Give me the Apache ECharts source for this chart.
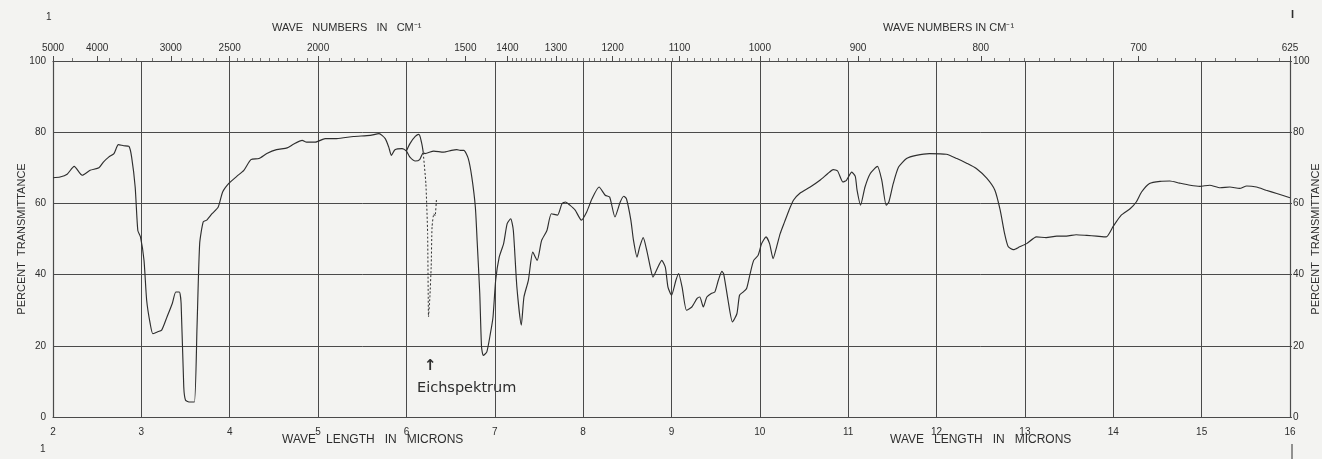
<!DOCTYPE html>
<html>
<head>
<meta charset="utf-8">
<script src="https://cdn.jsdelivr.net/npm/echarts@6/dist/echarts.min.js"></script>
<style>
html,body{margin:0;padding:0;background:#f3f3f1;}
#chart{width:1322px;height:459px;}
</style>
</head>
<body>
<div id="chart"></div>
<script>
// ---- data ----
// wavelength (microns), percent transmittance
const mainTrace = [
 [2.00,67.2],[2.08,67.4],[2.16,68.2],[2.24,70.4],[2.33,67.9],[2.42,69.3],[2.52,70.0],[2.57,71.6],[2.63,73.0],[2.69,74.0],
 [2.74,76.5],[2.80,76.2],[2.86,76.0],[2.89,73.0],[2.93,64.6],[2.96,52.4],[2.99,50.6],[3.03,44.0],[3.06,32.8],[3.10,26.2],
 [3.13,23.4],[3.18,23.9],[3.23,24.4],[3.29,28.1],[3.35,31.9],[3.39,35.1],[3.43,35.1],[3.45,31.9],[3.48,8.4],[3.50,4.7],
 [3.55,4.2],[3.60,4.2],[3.63,25.3],[3.66,48.7],[3.70,54.8],[3.74,55.3],[3.80,57.1],[3.87,59.0],[3.92,63.2],[3.99,65.6],
 [4.08,67.6],[4.16,69.3],[4.24,72.3],[4.33,72.6],[4.42,74.0],[4.53,75.1],[4.65,75.6],[4.72,76.6],[4.82,77.7],[4.87,77.2],
 [4.97,77.2],[5.08,78.2],[5.21,78.2],[5.40,78.8],[5.59,79.1],[5.69,79.6],[5.76,78.2],[5.80,75.8],[5.83,73.5],[5.87,75.1],
 [5.95,75.4],[6.00,74.7],[6.04,73.0],[6.10,71.9],[6.15,72.3],[6.19,74.2],[6.21,74.0],[6.31,74.7],[6.42,74.4],[6.51,74.9],
 [6.57,75.1],[6.61,74.9],[6.65,74.9],[6.70,72.6],[6.74,67.4],[6.78,59.0],[6.80,49.6],[6.83,34.7],[6.85,19.7],[6.87,17.3],
 [6.91,18.3],[6.95,23.4],[6.98,28.1],[7.01,38.4],[7.05,44.9],[7.10,48.7],[7.14,54.3],[7.18,55.7],[7.21,52.4],[7.25,36.5],
 [7.30,25.8],[7.33,33.7],[7.38,38.4],[7.43,46.3],[7.48,44.0],[7.53,49.6],[7.59,52.4],[7.64,57.1],[7.71,56.7],[7.76,59.9],
 [7.80,60.4],[7.85,59.5],[7.91,58.1],[7.98,55.3],[8.04,57.6],[8.10,61.3],[8.18,64.6],[8.25,62.3],[8.30,61.8],[8.36,56.2],
 [8.42,60.4],[8.46,62.0],[8.49,61.3],[8.54,55.3],[8.57,49.6],[8.61,44.9],[8.64,47.8],[8.68,50.4],[8.72,46.8],[8.76,42.1],
 [8.79,39.3],[8.83,41.2],[8.89,44.0],[8.93,42.1],[8.96,36.5],[9.00,34.2],[9.05,38.4],[9.08,40.3],[9.12,36.5],[9.17,30.0],
 [9.23,30.9],[9.29,33.3],[9.32,33.7],[9.36,30.9],[9.40,33.7],[9.45,34.7],[9.49,35.1],[9.53,38.4],[9.57,40.9],[9.59,40.3],
 [9.64,32.8],[9.69,26.7],[9.74,29.0],[9.77,34.2],[9.81,35.1],[9.85,36.1],[9.89,40.3],[9.93,44.0],[9.98,45.4],[10.02,48.7],
 [10.07,50.6],[10.11,48.7],[10.15,44.5],[10.19,47.8],[10.23,51.5],[10.28,54.8],[10.33,58.1],[10.38,60.9],[10.45,62.8],[10.57,64.6],
 [10.68,66.5],[10.77,68.4],[10.83,69.5],[10.88,69.1],[10.94,66.0],[10.98,66.5],[11.04,68.8],[11.08,67.6],[11.10,63.7],[11.14,59.5],
 [11.19,64.6],[11.25,68.4],[11.33,70.4],[11.38,66.5],[11.43,59.5],[11.46,60.4],[11.51,65.6],[11.57,70.2],[11.66,72.6],[11.77,73.5],
 [11.92,74.0],[12.11,73.8],[12.23,72.6],[12.34,71.3],[12.45,69.8],[12.57,67.0],[12.66,63.7],[12.72,58.1],[12.77,51.5],[12.81,47.9],
 [12.87,47.0],[12.94,47.8],[13.02,48.7],[13.13,50.6],[13.24,50.4],[13.36,50.8],[13.47,50.8],[13.58,51.2],[13.70,51.0],[13.81,50.8],
 [13.92,50.6],[14.00,53.6],[14.09,56.7],[14.19,58.5],[14.26,60.4],[14.32,63.2],[14.41,65.6],[14.53,66.2],[14.64,66.3],[14.75,65.7],
 [14.87,65.1],[14.98,64.8],[15.09,65.1],[15.21,64.4],[15.32,64.6],[15.43,64.2],[15.51,64.9],[15.62,64.6],[15.73,63.7],[15.85,62.8],
 [16.00,61.6]
];
// second (upper) trace of the overlap loop near 6 microns
const overlapBranch = [[6.00,74.7],[6.04,76.8],[6.10,78.8],[6.14,79.4],[6.17,77.2],[6.19,74.4]];
// calibration spectrum (dashed), polystyrene band
const calibrationTrace = [[6.19,74.2],[6.22,65.6],[6.24,51.5],[6.25,28.1],[6.265,33.5],[6.28,42.1],[6.29,53.4],[6.31,57.1],[6.325,56.5],[6.34,61.3]];

// axis labels
const wavenumberLabels = [5000,4000,3000,2500,2000,1500,1400,1300,1200,1100,1000,900,800,700,625];
// minor wavenumber tick ranges: [from, to, step]
const wavenumberMinorRanges = [[4500,4500,500],[3800,3200,200],[2900,2600,100],[2450,2050,50],[1950,1550,50],[1450,1450,50],[1390,630,10]];
const micronMin = 2, micronMax = 16, micronStep = 1;
const transMin = 0, transMax = 100, transStep = 20;

// ---- build ----
const toMicron = w => 10000 / w;
const majorMicrons = wavenumberLabels.map(toMicron);
const minorMicrons = [];
wavenumberMinorRanges.forEach(([a, b, s]) => {
  for (let w = a; w >= b; w -= s) {
    if (wavenumberLabels.indexOf(w) < 0) minorMicrons.push(toMicron(w));
  }
});

const ink = '#2e2e2e';
const gridInk = '#4a4a4a';
const font = 'Liberation Sans';

const chart = echarts.init(document.getElementById('chart'), null, {renderer: 'canvas'});
chart.setOption({
  backgroundColor: '#f3f3f1',
  animation: false,
  grid: {left: 53, right: 32, top: 61, bottom: 42, containLabel: false, outerBoundsMode: 'none'},
  xAxis: [
    {
      type: 'value', min: micronMin, max: micronMax, interval: micronStep, position: 'bottom',
      axisLine: {show: true, onZero: false, lineStyle: {color: gridInk, width: 1.2}},
      axisTick: {show: false},
      splitLine: {show: true, lineStyle: {color: gridInk, width: 1}},
      axisLabel: {color: ink, fontSize: 10, fontFamily: font, margin: 10}
    },
    {
      type: 'value', min: micronMin, max: micronMax, position: 'top',
      axisLine: {show: true, onZero: false, lineStyle: {color: gridInk, width: 1.2}},
      axisTick: {show: true, customValues: majorMicrons, length: 5, lineStyle: {color: gridInk}},
      axisLabel: {show: true, customValues: majorMicrons, color: ink, fontSize: 10, fontFamily: font, margin: 8,
        hideOverlap: false, formatter: v => String(Math.round(10000 / v))},
      splitLine: {show: false}
    },
    {
      type: 'value', min: micronMin, max: micronMax, position: 'top',
      axisLine: {show: false, onZero: false},
      axisTick: {show: true, customValues: minorMicrons, length: 3, lineStyle: {color: '#777'}},
      axisLabel: {show: false},
      splitLine: {show: false}
    }
  ],
  yAxis: [
    {
      type: 'value', min: transMin, max: transMax, interval: transStep, position: 'left',
      name: 'PERCENT  TRANSMITTANCE', nameLocation: 'middle', nameGap: 26, nameRotate: 90, nameMoveOverlap: false,
      nameTextStyle: {color: ink, fontSize: 11, fontFamily: font},
      axisLine: {show: true, onZero: false, lineStyle: {color: gridInk, width: 1.2}},
      axisTick: {show: false},
      splitLine: {show: true, lineStyle: {color: gridInk, width: 1}},
      axisLabel: {color: ink, fontSize: 10, fontFamily: font, margin: 7}
    },
    {
      type: 'value', min: transMin, max: transMax, interval: transStep, position: 'right',
      name: 'PERCENT  TRANSMITTANCE', nameLocation: 'middle', nameGap: 20, nameRotate: 90, nameMoveOverlap: false,
      nameTextStyle: {color: ink, fontSize: 11, fontFamily: font},
      axisLine: {show: true, onZero: false, lineStyle: {color: gridInk, width: 1.2}},
      axisTick: {show: true, length: 2, lineStyle: {color: gridInk}},
      splitLine: {show: false},
      axisLabel: {color: ink, fontSize: 10, fontFamily: font, margin: 3}
    }
  ],
  series: [
    {
      name: 'Spektrum', type: 'line', data: mainTrace, xAxisIndex: 0, yAxisIndex: 0,
      showSymbol: false, symbol: 'none', smooth: 0.2, z: 5,
      lineStyle: {color: ink, width: 1.15}
    },
    {
      name: 'Spektrum (Schleife)', type: 'line', data: overlapBranch, xAxisIndex: 0, yAxisIndex: 0,
      showSymbol: false, symbol: 'none', smooth: 0.3, z: 5,
      lineStyle: {color: ink, width: 1.15}
    },
    {
      name: 'Eichspektrum', type: 'line', data: calibrationTrace, xAxisIndex: 0, yAxisIndex: 0,
      showSymbol: false, symbol: 'none', smooth: 0.15, z: 5,
      lineStyle: {color: ink, width: 1, type: [2, 2]}
    }
  ],
  graphic: [
    {type: 'text', left: 272, top: 22, style: {text: 'WAVE   NUMBERS   IN   CM\u207B\u00B9', fill: ink, font: '11px "Liberation Sans"'}},
    {type: 'text', left: 883, top: 22, style: {text: 'WAVE NUMBERS IN CM\u207B\u00B9', fill: ink, font: '11px "Liberation Sans"'}},
    {type: 'text', left: 282, top: 434, style: {text: 'WAVE   LENGTH   IN   MICRONS', fill: ink, font: '12px "Liberation Sans"'}},
    {type: 'text', left: 890, top: 434, style: {text: 'WAVE   LENGTH   IN   MICRONS', fill: ink, font: '12px "Liberation Sans"'}},
    {type: 'text', left: 424, top: 359, style: {text: '\u2191', fill: ink, font: 'bold 15px "DejaVu Sans"'}},
    {type: 'text', left: 417, top: 381, style: {text: 'Eichspektrum', fill: ink, font: '14.5px "DejaVu Sans"'}},
    {type: 'text', left: 46, top: 12, style: {text: '1', fill: ink, font: '10px "Liberation Sans"'}},
    {type: 'text', left: 1291, top: 9, style: {text: 'I', fill: ink, font: 'bold 11px "Liberation Sans"'}},
    {type: 'text', left: 40, top: 444, style: {text: '1', fill: ink, font: '10px "Liberation Sans"'}},
    {type: 'line', shape: {x1: 1292, y1: 444, x2: 1292, y2: 459}, style: {stroke: ink, lineWidth: 1}}
  ]
});
</script>
</body>
</html>
